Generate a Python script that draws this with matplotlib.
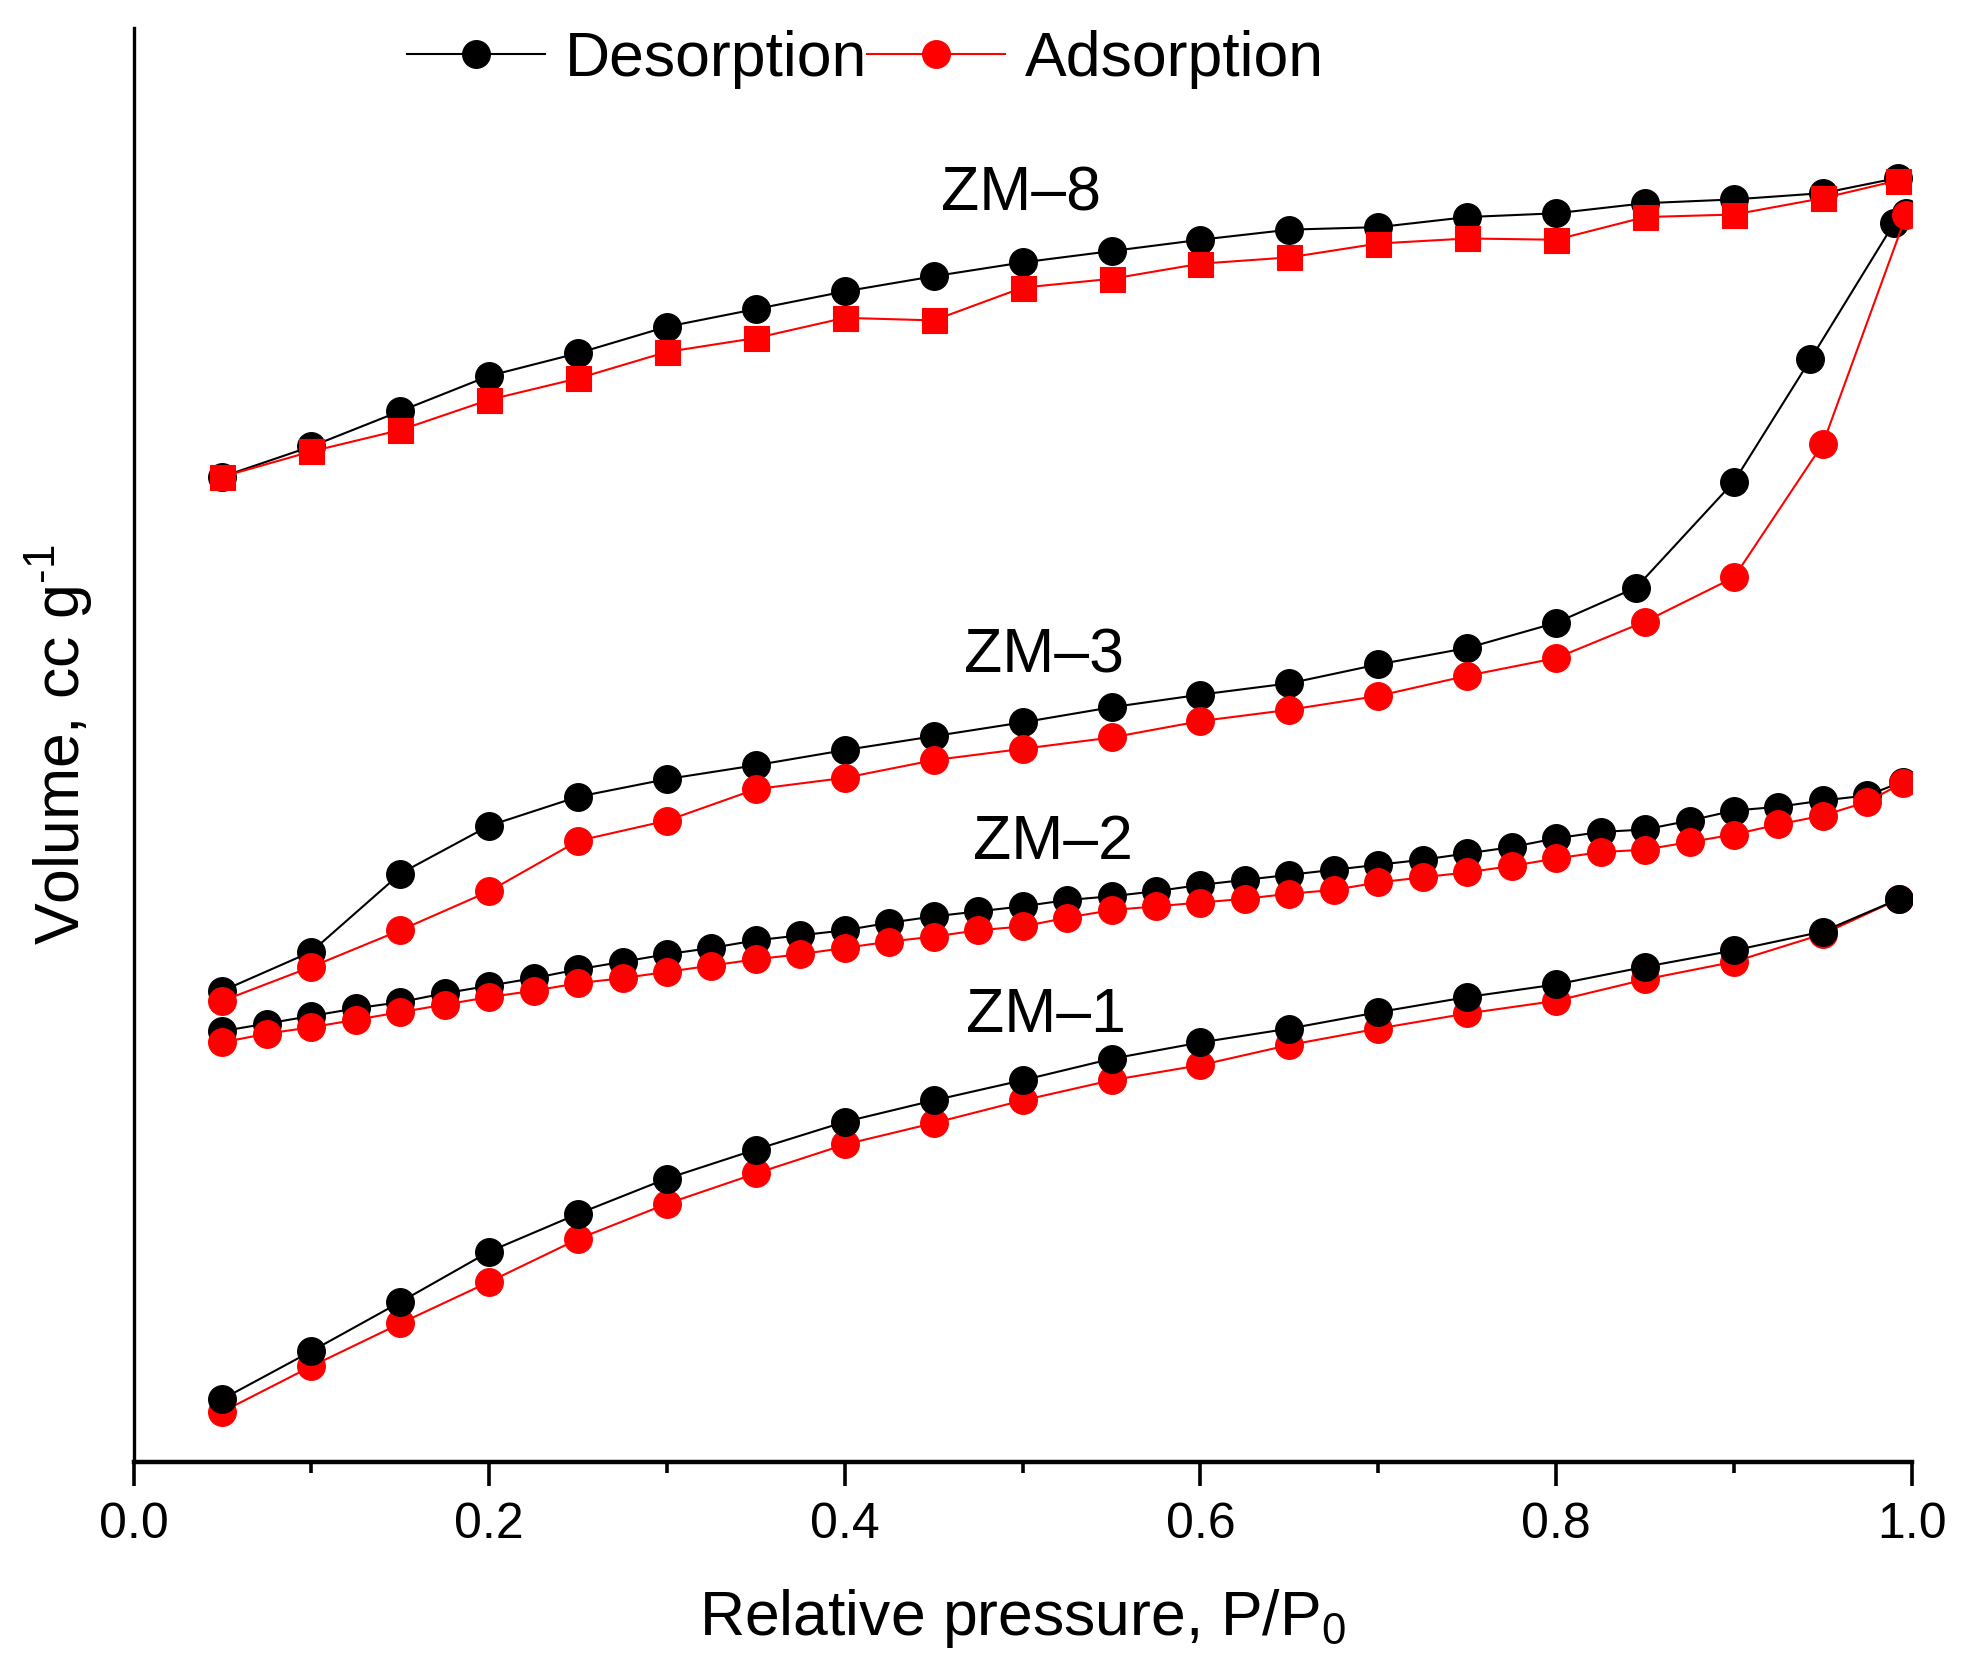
import matplotlib.pyplot as plt
from matplotlib.lines import Line2D

plt.rcParams['font.family'] = ['Liberation Sans', 'DejaVu Sans']
plt.rcParams['mathtext.fontset'] = 'custom'
plt.rcParams['mathtext.rm'] = 'Liberation Sans'
plt.rcParams['mathtext.it'] = 'Liberation Sans:italic'
plt.rcParams['mathtext.bf'] = 'Liberation Sans:bold'

# ZM-8 (adsorption drawn with squares)
x_zm8 = [0.05, 0.10, 0.15, 0.20, 0.25, 0.30, 0.35, 0.40, 0.45, 0.50,
         0.55, 0.60, 0.65, 0.70, 0.75, 0.80, 0.85, 0.90, 0.95, 0.992]
des_zm8 = [78.2, 80.6, 83.4, 86.2, 88.0, 90.1, 91.5, 92.9, 94.1, 95.2,
           96.1, 97.0, 97.8, 98.0, 98.8, 99.1, 99.9, 100.2, 100.7, 101.9]
ads_zm8 = [78.2, 80.2, 81.9, 84.3, 86.0, 88.1, 89.2, 90.8, 90.6, 93.2,
           93.9, 95.1, 95.6, 96.7, 97.1, 97.0, 98.8, 99.0, 100.3, 101.7]

# ZM-3
x_des_zm3 = [0.05, 0.10, 0.15, 0.20, 0.25, 0.30, 0.35, 0.40, 0.45, 0.50,
             0.55, 0.60, 0.65, 0.70, 0.75, 0.80, 0.845, 0.90, 0.943, 0.99, 0.997]
des_zm3 = [37.4, 40.5, 46.7, 50.5, 52.8, 54.2, 55.3, 56.5, 57.6, 58.7,
           59.9, 60.9, 61.8, 63.3, 64.6, 66.6, 69.4, 77.8, 87.5, 98.3, 99.1]
x_ads_zm3 = [0.05, 0.10, 0.15, 0.20, 0.25, 0.30, 0.35, 0.40, 0.45, 0.50,
             0.55, 0.60, 0.65, 0.70, 0.75, 0.80, 0.85, 0.90, 0.95, 0.997]
ads_zm3 = [36.6, 39.3, 42.2, 45.3, 49.3, 50.9, 53.4, 54.3, 55.7, 56.6,
           57.5, 58.8, 59.7, 60.8, 62.4, 63.8, 66.7, 70.2, 80.8, 99.0]

# ZM-2
x_zm2 = [0.05, 0.075, 0.10, 0.125, 0.15, 0.175, 0.20, 0.225, 0.25, 0.275,
         0.30, 0.325, 0.35, 0.375, 0.40, 0.425, 0.45, 0.475, 0.50, 0.525,
         0.55, 0.575, 0.60, 0.625, 0.65, 0.675, 0.70, 0.725, 0.75, 0.775,
         0.80, 0.825, 0.85, 0.875, 0.90, 0.925, 0.95, 0.975, 0.995]
des_zm2 = [34.2, 34.8, 35.4, 36.0, 36.5, 37.2, 37.8, 38.4, 39.1, 39.7,
           40.3, 40.8, 41.4, 41.8, 42.2, 42.8, 43.3, 43.7, 44.1, 44.6,
           44.9, 45.3, 45.8, 46.2, 46.6, 47.0, 47.4, 47.8, 48.3, 48.8,
           49.5, 50.0, 50.2, 50.9, 51.7, 52.0, 52.5, 52.9, 54.0]
ads_zm2 = [33.3, 34.0, 34.5, 35.1, 35.7, 36.3, 36.9, 37.4, 38.0, 38.4,
           38.9, 39.4, 39.9, 40.3, 40.8, 41.3, 41.7, 42.2, 42.5, 43.2,
           43.8, 44.1, 44.4, 44.7, 45.1, 45.4, 46.0, 46.4, 46.8, 47.3,
           47.9, 48.4, 48.6, 49.2, 49.8, 50.6, 51.3, 52.4, 53.9]

# ZM-1
x_zm1 = [0.05, 0.10, 0.15, 0.20, 0.25, 0.30, 0.35, 0.40, 0.45, 0.50,
         0.55, 0.60, 0.65, 0.70, 0.75, 0.80, 0.85, 0.90, 0.95, 0.993]
des_zm1 = [5.0, 8.8, 12.7, 16.7, 19.7, 22.5, 24.8, 27.0, 28.7, 30.3,
           32.0, 33.3, 34.4, 35.7, 36.9, 37.9, 39.3, 40.6, 42.1, 44.7]
ads_zm1 = [4.0, 7.6, 11.0, 14.3, 17.7, 20.5, 22.9, 25.2, 26.9, 28.7,
           30.3, 31.5, 33.1, 34.4, 35.6, 36.6, 38.3, 39.7, 41.9, 44.7]

sample_names = ['ZM\u20138', 'ZM\u20133', 'ZM\u20132', 'ZM\u20131']
label_x = [0.499, 0.512, 0.517, 0.513]
label_y = [100.6, 64.0, 49.2, 35.4]

fig = plt.figure(figsize=(19.76, 16.69), dpi=100)
ax = fig.add_axes([0.0676, 0.124, 0.8999, 0.8592])

blk = dict(color='black', lw=1.5, marker='o', ms=20, mew=0.8)
red = dict(color='red', lw=1.5, marker='o', ms=20, mew=0.8)

# ZM-8
ax.plot(x_zm8, des_zm8, **blk)
ax.plot(x_zm8, ads_zm8, color='red', lw=1.5, marker='s', ms=18, mew=0.8)
# ZM-3
ax.plot(x_des_zm3, des_zm3, **blk)
ax.plot(x_ads_zm3, ads_zm3, **red)
# ZM-2
ax.plot(x_zm2, des_zm2, **blk)
ax.plot(x_zm2, ads_zm2, **red)
# ZM-1 (black on top)
ax.plot(x_zm1, ads_zm1, **red)
ax.plot(x_zm1, des_zm1, **blk)

for name, lx, ly in zip(sample_names, label_x, label_y):
    ax.text(lx, ly, name, fontsize=45, ha='center', va='center')

ax.set_xlim(0, 1.0)
ax.set_ylim(0, 113.8)
ax.set_xticks([0.0, 0.2, 0.4, 0.6, 0.8, 1.0])
ax.set_xticks([0.1, 0.3, 0.5, 0.7, 0.9], minor=True)
ax.set_yticks([])
ax.tick_params(axis='x', which='major', length=17, width=2.6, labelsize=36, pad=12)
ax.tick_params(axis='x', which='minor', length=8, width=2.6)

ax.spines['top'].set_visible(False)
ax.spines['right'].set_visible(False)
ax.spines['bottom'].set_linewidth(3.2)
ax.spines['left'].set_linewidth(2.4)

ax.set_xlabel('Relative pressure, P/P$_\\mathrm{0}$', fontsize=45, labelpad=28)
ax.set_ylabel('Volume, cc g$^{\\mathrm{\u20101}}$', fontsize=45, labelpad=28)

handles = [Line2D([], [], **blk), Line2D([], [], **red)]
ax.legend(handles, ['Desorption', 'Adsorption'], ncol=2, frameon=False,
          fontsize=45, loc='center left', bbox_to_anchor=(0.154, 0.978),
          borderpad=0, borderaxespad=0, handlelength=2.2, handletextpad=0.32,
          columnspacing=0.0)

plt.savefig('out.png', dpi=100)
